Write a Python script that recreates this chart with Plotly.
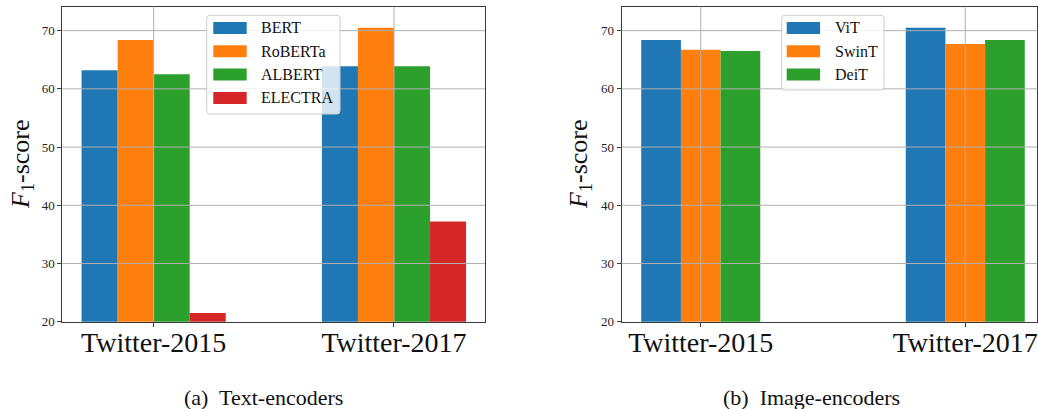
import plotly.graph_objects as go

# ---- data -------------------------------------------------------------
datasets = ["Twitter-2015", "Twitter-2017"]

text_models = ["BERT", "RoBERTa", "ALBERT", "ELECTRA"]
text_scores = {
    "BERT": [63.2, 63.9],
    "RoBERTa": [68.4, 70.5],
    "ALBERT": [62.5, 63.9],
    "ELECTRA": [21.5, 37.2],
}

image_models = ["ViT", "SwinT", "DeiT"]
image_scores = {
    "ViT": [68.4, 70.5],
    "SwinT": [66.7, 67.7],
    "DeiT": [66.5, 68.4],
}

y_ticks = [20, 30, 40, 50, 60, 70]

# ---- styling ----------------------------------------------------------
W, H = 1038, 409
FONT = "Liberation Serif, Times New Roman, serif"
COLORS = ["#1f77b4", "#ff7f0e", "#2ca02c", "#d62728"]
GRID = "#b0b0b0"
SPINE = "#3a3a3a"
BAR_W = 0.15


def px_x(p):
    return p / W


def px_y(p):
    return 1 - p / H


fig = go.Figure()
group_pos = list(range(len(datasets)))


def add_group(models, scores, xa, ya):
    n = len(models)
    for i, m in enumerate(models):
        fig.add_trace(go.Bar(
            x=group_pos, y=scores[m], name=m,
            width=BAR_W, offset=-n * BAR_W / 2 + i * BAR_W,
            marker=dict(color=COLORS[i], line=dict(width=0)),
            xaxis=xa, yaxis=ya, showlegend=False,
            hoverinfo="skip",
        ))


add_group(text_models, text_scores, "x", "y")
add_group(image_models, image_scores, "x2", "y2")

y_dom = [px_y(321.67), px_y(6.67)]
y_range = [20, 74.12]

axis_common = dict(
    showgrid=False, zeroline=False, showline=True, linecolor=SPINE,
    linewidth=1, mirror=True, ticks="outside", ticklen=4, tickwidth=1,
    tickcolor=SPINE, automargin=False,
)
xtick_font = dict(size=28, family=FONT, color="#111")
ytick_font = dict(size=13, family=FONT, color="#222")

fig.update_layout(
    width=W, height=H, margin=dict(l=0, r=0, t=0, b=0, autoexpand=False),
    paper_bgcolor="white", plot_bgcolor="white",
    barmode="overlay", showlegend=False,
    font=dict(family=FONT, color="#111"),
    xaxis=dict(domain=[px_x(62.33), px_x(485)], range=[-0.38, 1.3787],
               tickvals=group_pos, ticktext=datasets, tickfont=xtick_font,
               ticklabelstandoff=-8, anchor="y", **axis_common),
    yaxis=dict(domain=y_dom, range=y_range, tickvals=y_ticks,
               tickfont=ytick_font, anchor="x", **axis_common),
    xaxis2=dict(domain=[px_x(621.67), px_x(1037.3)], range=[-0.299, 1.2724],
                tickvals=group_pos, ticktext=datasets, tickfont=xtick_font,
                ticklabelstandoff=-8, anchor="y2", **axis_common),
    yaxis2=dict(domain=y_dom, range=y_range, tickvals=y_ticks,
                tickfont=ytick_font, anchor="x2", **axis_common),
)

# grid lines drawn over the bars
shapes = []
for xa, ya in (("x", "y"), ("x2", "y2")):
    for v in y_ticks:
        if v <= y_range[0]:
            continue
        shapes.append(dict(type="line", xref=f"{xa} domain", yref=ya,
                           x0=0, x1=1, y0=v, y1=v, layer="above",
                           line=dict(color=GRID, width=1)))
    for g in group_pos:
        shapes.append(dict(type="line", xref=xa, yref=f"{ya} domain",
                           x0=g, x1=g, y0=0, y1=1, layer="above",
                           line=dict(color=GRID, width=1)))

annotations = []


def rounded_box(x0, y0, x1, y1, r=3):
    """Rounded rectangle path in paper coordinates from pixel corners."""
    X = lambda p: px_x(p)
    Y = lambda p: px_y(p)
    return (f"M{X(x0 + r)},{Y(y0)} L{X(x1 - r)},{Y(y0)} Q{X(x1)},{Y(y0)} {X(x1)},{Y(y0 + r)} "
            f"L{X(x1)},{Y(y1 - r)} Q{X(x1)},{Y(y1)} {X(x1 - r)},{Y(y1)} "
            f"L{X(x0 + r)},{Y(y1)} Q{X(x0)},{Y(y1)} {X(x0)},{Y(y1 - r)} "
            f"L{X(x0)},{Y(y0 + r)} Q{X(x0)},{Y(y0)} {X(x0 + r)},{Y(y0)} Z")


def add_legend(models, box, swatch_x0, text_x, row0=28.0, step=23.3):
    x0, y0, x1, y1 = box
    shapes.append(dict(type="path", xref="paper", yref="paper",
                       path=rounded_box(x0, y0, x1, y1), layer="above",
                       fillcolor="rgba(255,255,255,0.8)",
                       line=dict(color="#cccccc", width=1)))
    for i, m in enumerate(models):
        cy = row0 + i * step
        shapes.append(dict(type="rect", xref="paper", yref="paper", layer="above",
                           x0=px_x(swatch_x0), x1=px_x(swatch_x0 + 33.4),
                           y0=px_y(cy - 6), y1=px_y(cy + 6),
                           fillcolor=COLORS[i], line=dict(width=0)))
        annotations.append(dict(text=m, x=px_x(text_x), y=px_y(cy),
                                xref="paper", yref="paper", showarrow=False,
                                xanchor="left", yanchor="middle",
                                font=dict(size=16, family=FONT, color="#111")))


add_legend(text_models, (206.7, 15.3, 340, 114), 213.3, 259)
add_legend(image_models, (781.7, 15.3, 884, 90), 786.7, 833)
fig.update_layout(shapes=shapes)

# y-axis titles and sub-figure captions
ylabel = "<i>F</i><sub>1</sub>-score"
for cx in (22, 580):
    annotations.append(dict(text=ylabel, x=px_x(cx), y=px_y(164), textangle=-90,
                            xref="paper", yref="paper", showarrow=False,
                            xanchor="center", yanchor="middle",
                            font=dict(size=26, family=FONT, color="#111")))
for txt, cx in (("(a)&nbsp; Text-encoders", 263), ("(b)&nbsp; Image-encoders", 811.5)):
    annotations.append(dict(text=txt, x=px_x(cx), y=px_y(397),
                            xref="paper", yref="paper", showarrow=False,
                            xanchor="center", yanchor="middle",
                            font=dict(size=22, family=FONT, color="#111")))
fig.update_layout(annotations=annotations)

fig.write_html("out.html")
